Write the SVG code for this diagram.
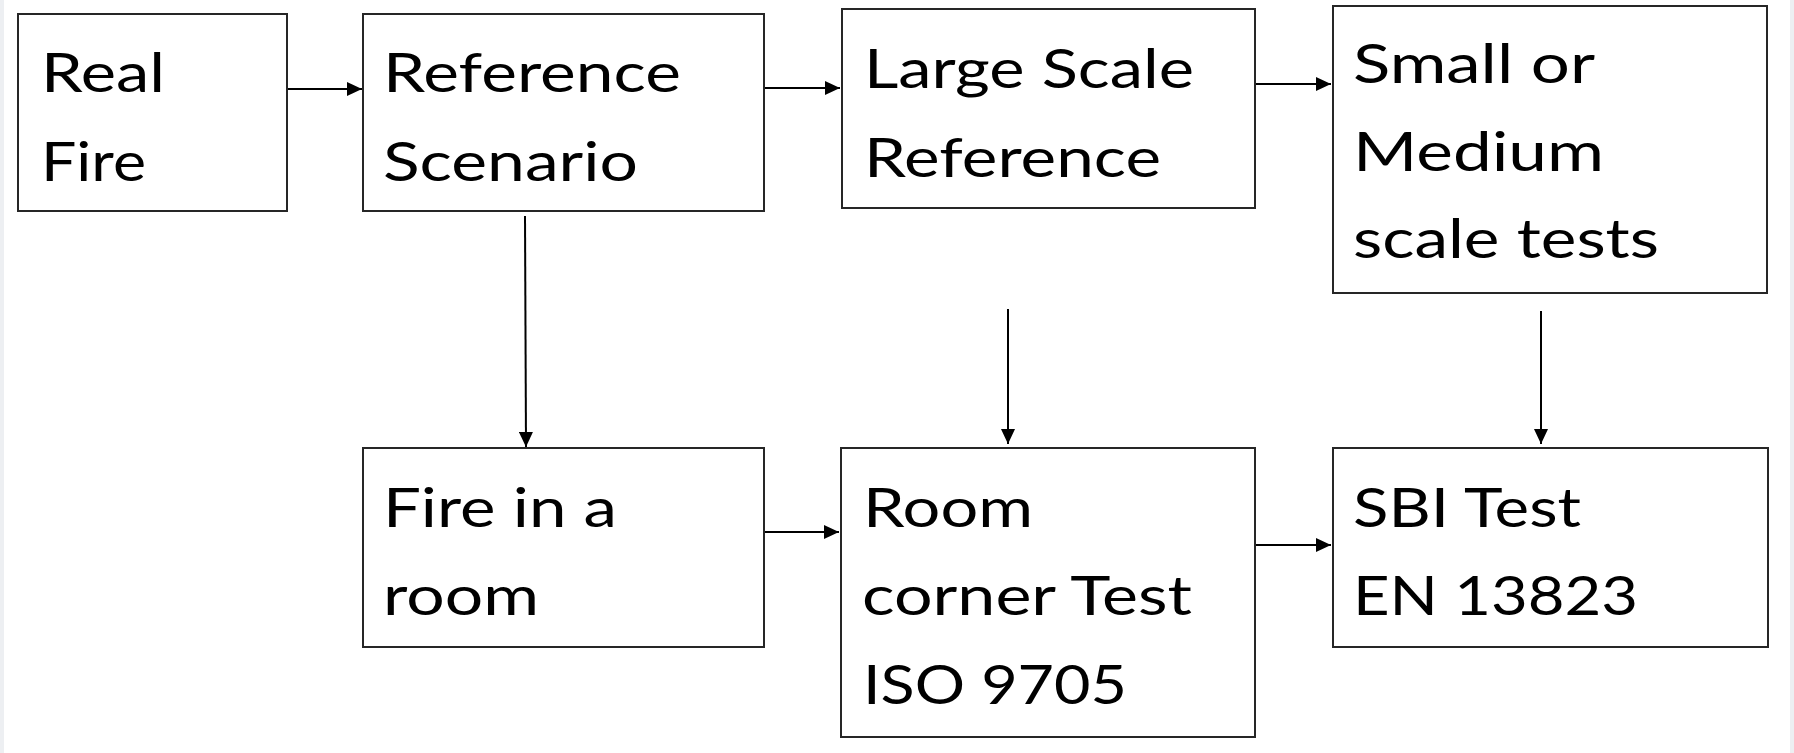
<svg xmlns="http://www.w3.org/2000/svg" width="1794" height="753" viewBox="0 0 1794 753">
  <defs>
    <marker id="arrow" markerUnits="userSpaceOnUse" markerWidth="16" markerHeight="14" refX="15" refY="7" orient="auto">
      <path d="M0,0 L15,7 L0,14 z" fill="#000"/>
    </marker>
    <style>
      .box { fill: #fff; stroke: #262626; stroke-width: 2; }
      .lbl { font-family: Lato, "Liberation Sans", sans-serif; font-size: 55px; fill: #000; }
      .conn line { stroke: #000; stroke-width: 2; marker-end: url(#arrow); }
    </style>
  </defs>
  <rect x="0" y="0" width="1794" height="753" fill="#edeff2"/>
  <rect x="4" y="0" width="1786" height="753" fill="#fff"/>

  <g id="real-fire">
    <rect class="box" x="18" y="14" width="269" height="197"/>
    <text class="lbl" x="41" y="92" textLength="124" lengthAdjust="spacingAndGlyphs">Real</text>
    <text class="lbl" x="41" y="181" textLength="105" lengthAdjust="spacingAndGlyphs">Fire</text>
  </g>
  <g id="reference-scenario">
    <rect class="box" x="363" y="14" width="401" height="197"/>
    <text class="lbl" x="383" y="92" textLength="298" lengthAdjust="spacingAndGlyphs">Reference</text>
    <text class="lbl" x="383" y="181" textLength="255" lengthAdjust="spacingAndGlyphs">Scenario</text>
  </g>
  <g id="large-scale-reference">
    <rect class="box" x="842" y="9" width="413" height="199"/>
    <text class="lbl" x="864" y="88" textLength="330" lengthAdjust="spacingAndGlyphs">Large Scale</text>
    <text class="lbl" x="864" y="177" textLength="297" lengthAdjust="spacingAndGlyphs">Reference</text>
  </g>
  <g id="small-medium-tests">
    <rect class="box" x="1333" y="6" width="434" height="287"/>
    <text class="lbl" x="1353" y="83" textLength="242" lengthAdjust="spacingAndGlyphs">Small or</text>
    <text class="lbl" x="1353" y="171" textLength="251" lengthAdjust="spacingAndGlyphs">Medium</text>
    <text class="lbl" x="1353" y="258" textLength="306" lengthAdjust="spacingAndGlyphs">scale tests</text>
  </g>
  <g id="fire-in-a-room">
    <rect class="box" x="363" y="448" width="401" height="199"/>
    <text class="lbl" x="383" y="527" textLength="234" lengthAdjust="spacingAndGlyphs">Fire in a</text>
    <text class="lbl" x="383" y="615" textLength="156" lengthAdjust="spacingAndGlyphs">room</text>
  </g>
  <g id="room-corner-test">
    <rect class="box" x="841" y="448" width="414" height="289"/>
    <text class="lbl" x="863" y="527" textLength="170" lengthAdjust="spacingAndGlyphs">Room</text>
    <text class="lbl" x="862" y="615" textLength="330" lengthAdjust="spacingAndGlyphs">corner Test</text>
    <text class="lbl" x="863" y="704" textLength="264" lengthAdjust="spacingAndGlyphs">ISO 9705</text>
  </g>
  <g id="sbi-test">
    <rect class="box" x="1333" y="448" width="435" height="199"/>
    <text class="lbl" x="1353" y="527" textLength="228" lengthAdjust="spacingAndGlyphs">SBI Test</text>
    <text class="lbl" x="1353" y="615" textLength="285" lengthAdjust="spacingAndGlyphs">EN 13823</text>
  </g>

  <g id="connectors" class="conn">
    <line x1="288" y1="89" x2="362" y2="89"/>
    <line x1="765" y1="88" x2="840" y2="88"/>
    <line x1="1256" y1="84" x2="1331" y2="84"/>
    <line x1="525" y1="216" x2="526" y2="447"/>
    <line x1="1008" y1="309" x2="1008" y2="444"/>
    <line x1="1541" y1="311" x2="1541" y2="444"/>
    <line x1="765" y1="532" x2="839" y2="532"/>
    <line x1="1256" y1="545" x2="1331" y2="545"/>
  </g>
</svg>
